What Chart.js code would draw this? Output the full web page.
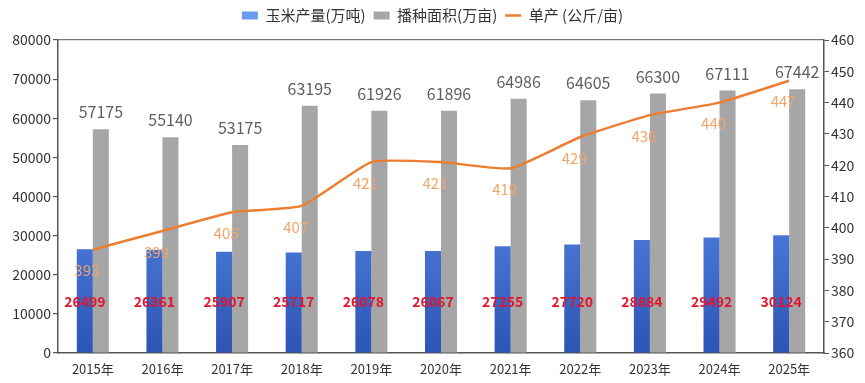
<!DOCTYPE html>
<html><head><meta charset="utf-8">
<script src="https://cdn.jsdelivr.net/npm/chart.js@4.4.1/dist/chart.umd.min.js"></script>
<style>html,body{margin:0;padding:0;background:#fff}#wrap{width:865px;height:383px}</style>
</head><body><div id="wrap"><canvas id="c" width="865" height="383"></canvas></div>
<script>
const years = ['2015年','2016年','2017年','2018年','2019年','2020年','2021年','2022年','2023年','2024年','2025年'];
const output = [26499,26361,25907,25717,26078,26067,27255,27720,28884,29492,30124];
const area = [57175,55140,53175,63195,61926,61896,64986,64605,66300,67111,67442];
const yieldPer = [393,399,405,407,421,421,419,429,436,440,447];
const leftTicks = [0,10000,20000,30000,40000,50000,60000,70000,80000];
const rightTicks = [360,370,380,390,400,410,420,430,440,450,460];

const FONT = '"Noto Sans CJK SC","Noto Sans",sans-serif';

const legendSpace = {
  id: 'legendSpace',
  beforeInit(chart) {
    const orig = chart.legend.fit;
    chart.legend.fit = function () { orig.call(this); this.height += 7; };
  }
};

const labelPlugin = {
  id: 'labels',
  afterDatasetsDraw(chart) {
    const ctx = chart.ctx;
    const ca = chart.chartArea;
    ctx.save();
    ctx.textAlign = 'center';
    ctx.textBaseline = 'middle';
    chart.getDatasetMeta(1).data.forEach((el, i) => {
      ctx.font = '16px ' + FONT;
      ctx.fillStyle = '#5f5f5f';
      ctx.fillText(String(area[i]), el.x, el.y - 17);
    });
    chart.getDatasetMeta(2).data.forEach((el, i) => {
      ctx.font = '15px ' + FONT;
      ctx.fillStyle = '#F2A56A';
      ctx.fillText(String(yieldPer[i]), el.x - 6, el.y + 21);
    });
    const yRed = ca.bottom - (ca.bottom - ca.top) * 0.163;
    chart.getDatasetMeta(0).data.forEach((el, i) => {
      ctx.font = 'bold 14px ' + FONT;
      ctx.fillStyle = '#E3142D';
      ctx.fillText(String(output[i]), el.x, yRed);
    });
    ctx.restore();
  }
};

const ctx = document.getElementById('c').getContext('2d');
function blueGrad(context) {
  const ca = context.chart.chartArea;
  if (!ca) return '#4472C4';
  const g = context.chart.ctx.createLinearGradient(0, ca.top, 0, ca.bottom);
  g.addColorStop(0, '#6A9BF0');
  g.addColorStop(0.6, '#4A78D6');
  g.addColorStop(1, '#2D55B3');
  return g;
}

new Chart(ctx, {
  type: 'bar',
  data: {
    labels: years,
    datasets: [
      { label: '玉米产量(万吨)', data: output, backgroundColor: blueGrad, yAxisID: 'y', order: 1,
        categoryPercentage: 0.46, barPercentage: 1.0, pointStyle: 'rect' },
      { label: '播种面积(万亩)', data: area, backgroundColor: '#A6A6A6', yAxisID: 'y', order: 1,
        categoryPercentage: 0.46, barPercentage: 1.0, pointStyle: 'rect' },
      { type: 'line', label: '单产 (公斤/亩)', data: yieldPer, borderColor: '#ED7D31', backgroundColor: '#ED7D31',
        borderWidth: 2.5, pointRadius: 0, tension: 0.15, yAxisID: 'y1', order: 0, pointStyle: 'line' }
    ]
  },
  options: {
    responsive: false,
    animation: false,
    layout: { padding: { top: 0, right: 0, left: 0, bottom: 0 } },
    plugins: {
      legend: {
        position: 'top',
        labels: {
          usePointStyle: true,
          pointStyleWidth: 16,
          boxWidth: 16, boxHeight: 8,
          font: { size: 15, family: FONT },
          color: '#333',
          padding: 8,
          sort: (a, b) => a.datasetIndex - b.datasetIndex
        }
      },
      tooltip: { enabled: false }
    },
    scales: {
      x: {
        grid: { display: false, drawTicks: false },
        border: { display: true, color: '#555', width: 1.5 },
        ticks: { font: { size: 13, family: FONT }, color: '#333', padding: 8 },
        afterFit(s) { s.height = 30; }
      },
      y: {
        position: 'left',
        min: 0, max: 80000,
        afterBuildTicks(s) { s.ticks = leftTicks.map(v => ({ value: v })); },
        grid: {
          color: c => (c.tick && c.tick.value === 80000 ? '#777' : 'rgba(0,0,0,0)'),
          lineWidth: 1.2,
          tickColor: '#555', tickLength: 5, drawTicks: true
        },
        border: { display: true, color: '#555', width: 1.5 },
        ticks: { font: { size: 14, family: FONT }, color: '#333', padding: 2, callback: v => String(v) },
        afterFit(s) { s.width = 58; }
      },
      y1: {
        position: 'right',
        min: 360, max: 460,
        afterBuildTicks(s) { s.ticks = rightTicks.map(v => ({ value: v })); },
        grid: { drawOnChartArea: false, tickColor: '#555', tickLength: 5 },
        border: { display: true, color: '#555', width: 1.5 },
        ticks: { font: { size: 14, family: FONT }, color: '#333', padding: 2, callback: v => String(v) },
        afterFit(s) { s.width = 41; }
      }
    }
  },
  plugins: [legendSpace, labelPlugin]
});
</script></body></html>
